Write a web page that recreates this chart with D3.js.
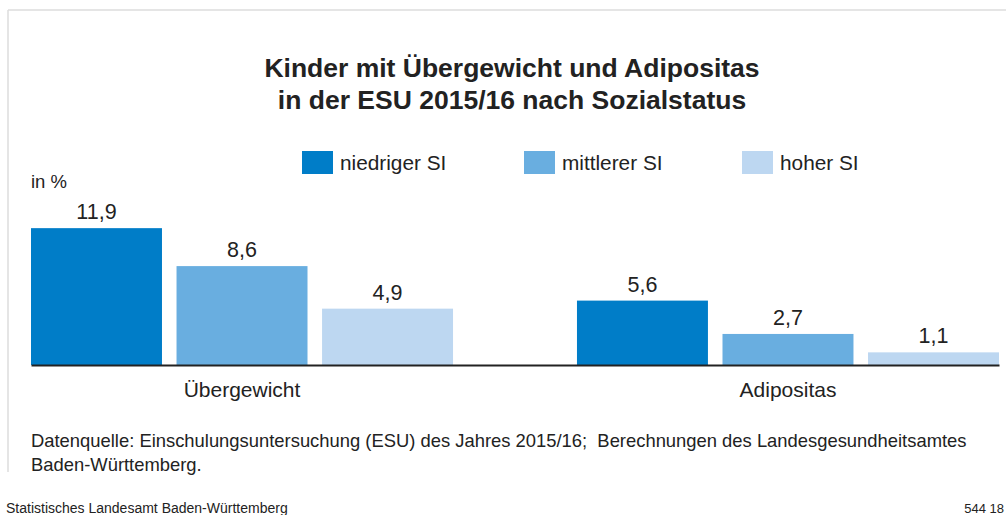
<!DOCTYPE html>
<html>
<head>
<meta charset="utf-8">
<script src="https://cdn.jsdelivr.net/npm/d3@7"></script>
<style>
  body { margin: 0; background: #fff; }
  svg { display: block; font-family: "Liberation Sans", Arial, sans-serif; }
  text { fill: #222; }
</style>
</head>
<body>
<div id="chart"></div>
<script>
// data
var categories = ["Übergewicht", "Adipositas"];
var series = ["niedriger SI", "mittlerer SI", "hoher SI"];
var values = [
  [11.9, 8.6, 4.9],
  [5.6, 2.7, 1.1]
];
var colors = ["#007dc8", "#69aee0", "#bdd7f1"];

var width = 1007,
  height = 515;

var svg = d3
  .select("#chart")
  .append("svg")
  .attr("width", width)
  .attr("height", height);

// frame lines
svg.append("line")
  .attr("x1", 8).attr("y1", 10).attr("x2", 1006).attr("y2", 10)
  .attr("stroke", "#dcdcdc").attr("stroke-width", 1.5);
svg.append("line")
  .attr("x1", 8).attr("y1", 10).attr("x2", 8).attr("y2", 472)
  .attr("stroke", "#dcdcdc").attr("stroke-width", 1.5);

// title
var title = svg.append("text")
  .attr("text-anchor", "middle")
  .style("font-weight", "bold")
  .style("font-size", "26.5px");
title.append("tspan").attr("x", 512).attr("y", 77).text("Kinder mit Übergewicht und Adipositas");
title.append("tspan").attr("x", 512).attr("y", 109).text("in der ESU 2015/16 nach Sozialstatus");

// scales
var baseY = 365;
var x0 = d3.scaleBand().domain(categories).range([31, 999]).paddingInner(0.227);
var x1 = d3.scaleBand().domain(series).range([0, x0.bandwidth()]).paddingInner(0.1);
var y = d3.scaleLinear().domain([0, 14]).range([baseY, baseY - 14 * 11.5]);
var color = d3.scaleOrdinal().domain(series).range(colors);

// legend
var legendX = [302, 524, 742];
var legend = svg.selectAll("g.legend")
  .data(series)
  .enter()
  .append("g")
  .attr("class", "legend")
  .attr("transform", function (d, i) { return "translate(" + legendX[i] + ",151)"; });
legend.append("rect")
  .attr("width", 31).attr("height", 23)
  .attr("fill", function (d) { return color(d); });
legend.append("text")
  .attr("x", 38).attr("y", 19)
  .style("font-size", "20.8px")
  .text(function (d) { return d; });

svg.append("text")
  .attr("x", 31).attr("y", 188)
  .style("font-size", "18.5px")
  .text("in %");

// bars
var groups = svg.selectAll("g.group")
  .data(categories)
  .enter()
  .append("g")
  .attr("class", "group")
  .attr("transform", function (d) { return "translate(" + x0(d) + ",0)"; });

var fmt = function (v) { return d3.format(".1f")(v).replace(".", ","); };

groups.selectAll("rect")
  .data(function (d, i) { return series.map(function (s, j) { return { s: s, v: values[i][j] }; }); })
  .enter()
  .append("rect")
  .attr("x", function (d) { return x1(d.s); })
  .attr("y", function (d) { return y(d.v); })
  .attr("width", x1.bandwidth())
  .attr("height", function (d) { return baseY - y(d.v); })
  .attr("fill", function (d) { return color(d.s); });

groups.selectAll("text.val")
  .data(function (d, i) { return series.map(function (s, j) { return { s: s, v: values[i][j] }; }); })
  .enter()
  .append("text")
  .attr("class", "val")
  .attr("text-anchor", "middle")
  .attr("x", function (d) { return x1(d.s) + x1.bandwidth() / 2; })
  .attr("y", function (d) { return y(d.v) - 9; })
  .style("font-size", "21.5px")
  .text(function (d) { return fmt(d.v); });

// axis
var xAxis = d3.axisBottom(x0).tickSize(0).tickPadding(0);
var ax = svg.append("g")
  .attr("transform", "translate(0," + baseY + ")")
  .call(xAxis);
ax.select(".domain").attr("stroke", "#222").attr("stroke-width", 2);
ax.selectAll("text")
  .attr("dy", 0)
  .attr("y", 32)
  .style("font-size", "21px")
  .style("font-family", "Liberation Sans, Arial, sans-serif")
  .attr("fill", "#222");

// notes
var note = svg.append("text").style("font-size", "18.4px");
note.append("tspan").attr("x", 31).attr("y", 447)
  .text("Datenquelle: Einschulungsuntersuchung (ESU) des Jahres 2015/16;\u00a0 Berechnungen des Landesgesundheitsamtes");
note.append("tspan").attr("x", 31).attr("y", 471).text("Baden-Württemberg.");

svg.append("text")
  .attr("x", 6).attr("y", 513)
  .style("font-size", "14px")
  .text("Statistisches Landesamt Baden-Württemberg");
svg.append("text")
  .attr("x", 1004).attr("y", 513)
  .attr("text-anchor", "end")
  .style("font-size", "13px")
  .text("544 18");
</script>
</body>
</html>
